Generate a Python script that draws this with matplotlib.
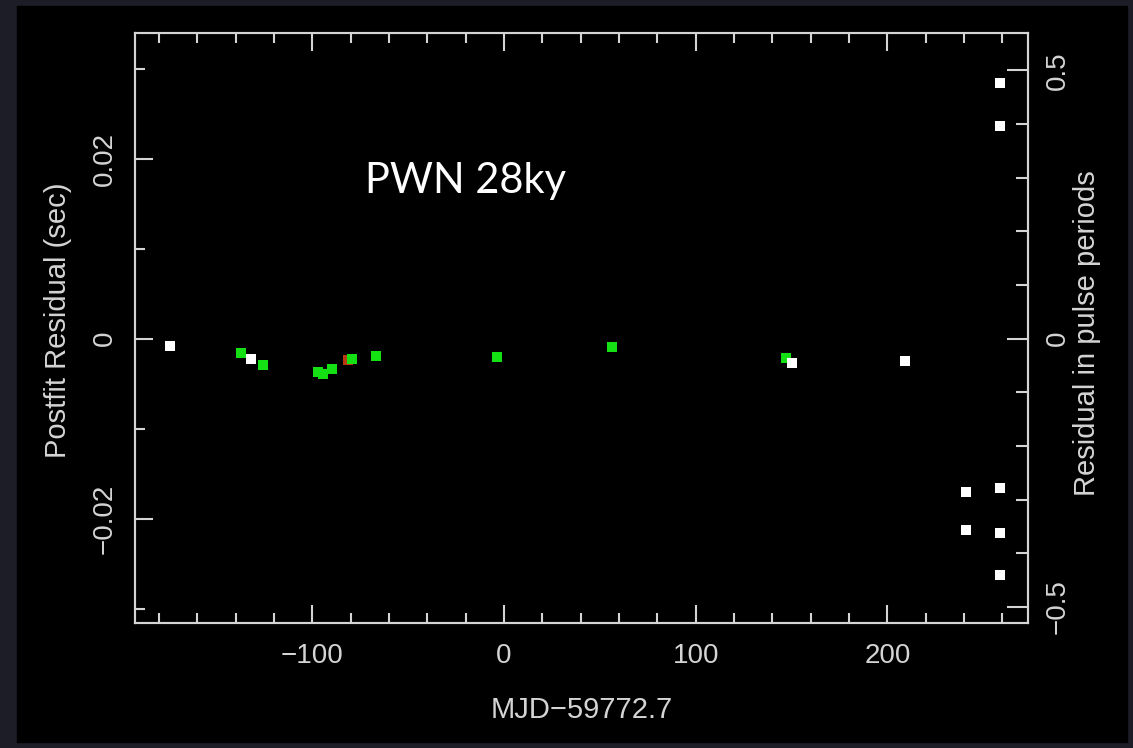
import matplotlib
matplotlib.use('Agg')
import matplotlib.pyplot as plt
from matplotlib.patches import Rectangle
from matplotlib.ticker import MultipleLocator, FuncFormatter

# residuals: x in days (MJD-59772.7), y in sec
green_x = [-137.2, -125.7, -97.2, -94.6, -89.7, -79.4, -66.6, -3.65, 56.2, 147.1]
green_y = [-0.00157, -0.00297, -0.00374, -0.00397, -0.00341, -0.0023, -0.00193, -0.00204, -0.00097, -0.00219]
white_x = [-174.2, -132.1, 150.5, 209.2, 258.9, 258.9, 241.2, 258.9, 241.2, 258.9, 258.9]
white_y = [-0.00086, -0.0023, -0.00268, -0.00252, 0.02837, 0.02366, -0.01704, -0.0166, -0.02123, -0.0216, -0.0263]
red_x = [-81.2]
red_y = [-0.00238]
period = 0.0596  # sec, for the right hand axis

fg = '#d4d4d4'
plt.rc('font', family=['Liberation Sans', 'DejaVu Sans'], size=20)
plt.rc('axes', linewidth=1.5, edgecolor=fg)

W, H = 1133, 748
fig = plt.figure(figsize=(W/100, H/100), dpi=100, facecolor='#1d1d27')
# black slide panel behind the pgplot frame
fig.add_artist(Rectangle((17/W, 1-742/H), (1127-17)/W, (742-6)/H,
                         transform=fig.transFigure, color='black', zorder=-10))

ax = fig.add_axes([134.7/W, 1-623.3/H, (1028.3-134.7)/W, (623.3-33)/H])
ax.set_facecolor('black')
ax.plot(red_x, red_y, 's', color='#b83a10', ms=6.8, mew=0, zorder=3)
ax.plot(green_x, green_y, 's', color='#14e014', ms=6.8, mew=0, zorder=4)
ax.plot(white_x, white_y, 's', color='white', ms=6.8, mew=0, zorder=5)

ax.set_xlim(-192.6, 273.5)
ax.set_ylim(-0.031633, 0.033956)

def fmt(v, pos):
	if abs(v) < 1e-9:
		return '0'
	return ('%g' % v).replace('-', '\u2212')

ax.xaxis.set_major_locator(MultipleLocator(100))
ax.xaxis.set_minor_locator(MultipleLocator(20))
ax.yaxis.set_major_locator(MultipleLocator(0.02))
ax.yaxis.set_minor_locator(MultipleLocator(0.01))
ax.xaxis.set_major_formatter(FuncFormatter(fmt))
ax.yaxis.set_major_formatter(FuncFormatter(fmt))
ax.tick_params(which='both', direction='in', top=True, right=False, colors=fg, width=1.5)
ax.tick_params(which='major', length=13)
ax.tick_params(which='minor', length=7)
ax.tick_params(axis='x', pad=14, labelcolor=fg)
ax.tick_params(axis='y', pad=12, labelcolor=fg, labelrotation=90)
for label in ax.get_yticklabels():
	label.set_va('center')

ax2 = ax.twinx()
ax2.set_ylim(-0.031633/period, 0.033956/period)
ax2.yaxis.set_major_locator(MultipleLocator(0.5))
ax2.yaxis.set_minor_locator(MultipleLocator(0.1))
ax2.yaxis.set_major_formatter(FuncFormatter(fmt))
ax2.tick_params(which='both', direction='in', colors=fg, width=1.5)
ax2.tick_params(which='major', length=15)
ax2.tick_params(which='minor', length=9)
ax2.tick_params(axis='y', pad=12, labelrotation=90)
for label in ax2.get_yticklabels():
	label.set_va('center')
for s in ax2.spines.values():
	s.set_color(fg)

fig.text(58/W, 1-320/H, 'Postfit Residual (sec)', rotation=90, ha='center', va='center', color=fg, fontsize=21)
fig.text(1087/W, 1-333/H, 'Residual in pulse periods', rotation=90, ha='center', va='center', color=fg, fontsize=21)
fig.text(581.5/W, 1-710/H, 'MJD\u221259772.7', ha='center', va='center', color=fg, fontsize=21)

fig.text(365/W, 1-193/H, 'PWN 28ky', family=['Lato', 'DejaVu Sans'], fontsize=30, color='white', va='baseline')

plt.savefig('out.png', dpi=100, facecolor=fig.get_facecolor())
